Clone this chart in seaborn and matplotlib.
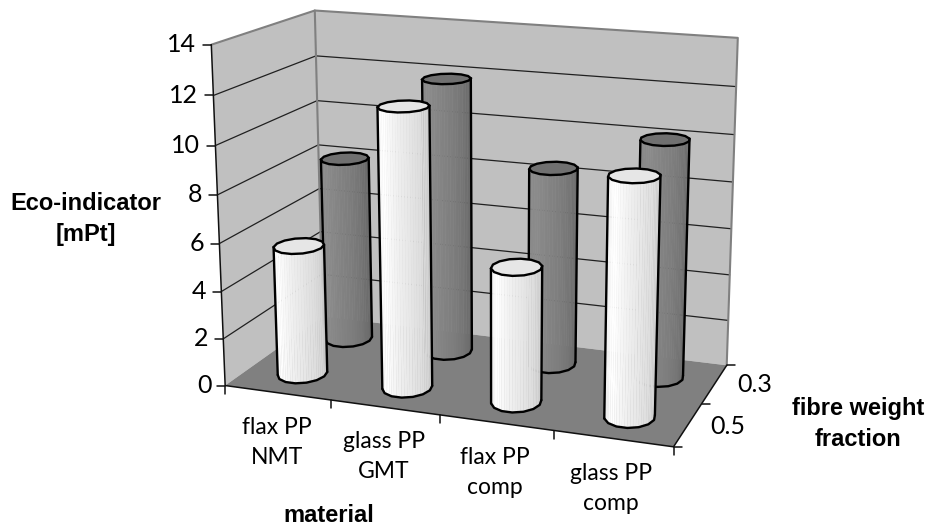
import numpy as np
import seaborn as sns
import matplotlib
matplotlib.use('Agg')
import matplotlib.pyplot as plt
from matplotlib.patches import Polygon

# values
materials = ['flax PP\nNMT', 'glass PP\nGMT', 'flax PP\ncomp', 'glass PP\ncomp']
fractions = ['0.5', '0.3']
eco_front = [5.5, 11.65, 5.6, 9.7]   # 0.5
eco_back = [8.1, 11.9, 8.5, 10.1]    # 0.3
y_ticks = [0, 2, 4, 6, 8, 10, 12, 14]

sns.set_theme(style='white')
plt.rcParams['font.family'] = ['Lato', 'DejaVu Sans']

n_cat = len(materials)
n_depth = len(fractions)
y_max = y_ticks[-1]

# camera of the 3d box: (category, depth, value) -> picture pixel
calib = [((0, 0, 0), (225, 386)), ((n_cat, 0, 0), (673, 447)), ((n_cat, n_depth, 0), (727, 365)),
         ((0, n_depth, 0), (323, 316)), ((0, 0, y_max), (212, 44)), ((0, n_depth, y_max), (314, 11)),
         ((n_cat, n_depth, y_max), (738, 38))]
A = []
for (a, b, c), (u, v) in calib:
    A.append([a, b, c, 1, 0, 0, 0, 0, -u*a, -u*b, -u*c, -u])
    A.append([0, 0, 0, 0, a, b, c, 1, -v*a, -v*b, -v*c, -v])
cam = np.linalg.svd(np.array(A, dtype=float))[2][-1].reshape(3, 4)


def proj(x, d, z):
    p = cam @ np.array([x, d, z, 1.0])
    return p[0] / p[2], p[1] / p[2]


fig = plt.figure(figsize=(9.29, 5.26), dpi=100)
ax = fig.add_axes([0, 0, 1, 1])
ax.set_xlim(0, 929)
ax.set_ylim(526, 0)
ax.axis('off')

wall = '#c0c0c0'
edge = '#808080'

# walls and floor
ax.add_patch(Polygon([proj(0, 0, 0), proj(0, 0, y_max), proj(0, n_depth, y_max), proj(0, n_depth, 0)], fc=wall, ec='none', zorder=1))
ax.add_patch(Polygon([proj(0, n_depth, 0), proj(0, n_depth, y_max), proj(n_cat, n_depth, y_max), proj(n_cat, n_depth, 0)], fc=wall, ec='none', zorder=1))
ax.add_patch(Polygon([proj(0, 0, 0), proj(n_cat, 0, 0), proj(n_cat, n_depth, 0), proj(0, n_depth, 0)], fc=edge, ec='none', zorder=2))

for t in y_ticks[1:-1]:
    pts = np.array([proj(0, 0, t), proj(0, n_depth, t), proj(n_cat, n_depth, t)])
    ax.plot(pts[:, 0], pts[:, 1], c='#202020', lw=0.9, zorder=2)

# wall rims
pts = np.array([proj(0, 0, y_max), proj(0, n_depth, y_max), proj(n_cat, n_depth, y_max), proj(n_cat, n_depth, 0)])
ax.plot(pts[:, 0], pts[:, 1], c=edge, lw=1.5, zorder=2)
pts = np.array([proj(0, n_depth, y_max), proj(0, n_depth, 0)])
ax.plot(pts[:, 0], pts[:, 1], c=edge, lw=1.5, zorder=2)

# axis lines
pts = np.array([proj(0, 0, y_max), proj(0, 0, 0), proj(n_cat, 0, 0), proj(n_cat, n_depth, 0)])
ax.plot(pts[:, 0], pts[:, 1], c='#101010', lw=1.1, zorder=3)

for t in y_ticks:
    u, v = proj(0, 0, t)
    ax.plot([u - 8, u], [v, v], c='#101010', lw=1.1, zorder=3)
    ax.text(u - 15 if t else u - 13, v, str(t), ha='right', va='center', fontsize=18, color='black')

for i in range(n_cat + 1):
    u, v = proj(i, 0, 0)
    ax.plot([u, u], [v, v + 8], c='#101010', lw=1.1, zorder=3)
for i in range(n_depth + 1):
    u, v = proj(n_cat, i, 0)
    ax.plot([u, u + 8], [v, v], c='#101010', lw=1.1, zorder=3)

# cylinders, 14 sided like the excel ones
radius_x = 0.21
radius_d = 0.25
n_side = 14
angles = np.linspace(0, 2*np.pi, n_side + 1)


def draw_bar(x, d, h, palette, top_color, zo):
    rim = [(x + radius_x*np.cos(a), d + radius_d*np.sin(a)) for a in angles]
    top = np.array([proj(p[0], p[1], h) for p in rim])
    bot = np.array([proj(p[0], p[1], 0) for p in rim])
    left = np.argmin(top[:-1, 0])
    right = np.argmax(top[:-1, 0])
    # front half runs from the left extreme round to the right extreme
    idx = [(left + k) % n_side for k in range((right - left) % n_side + 1)]
    n_strip = 4
    total = (len(idx) - 1) * n_strip
    for k, i in enumerate(idx[:-1]):
        j = idx[k + 1]
        for s in range(n_strip):
            f0, f1 = s / n_strip, (s + 1) / n_strip
            c = palette[int((k*n_strip + s) / (total - 1) * (len(palette) - 1))]
            ax.add_patch(Polygon([top[i] + f0*(top[j] - top[i]), top[i] + f1*(top[j] - top[i]),
                                  bot[i] + f1*(bot[j] - bot[i]), bot[i] + f0*(bot[j] - bot[i])],
                                 fc=c, ec=c, lw=0.3, zorder=zo))
    ax.add_patch(Polygon(top[:-1], fc=top_color, ec='black', lw=1.7, zorder=zo + 0.2))
    ax.plot(bot[idx, 0], bot[idx, 1], c='black', lw=1.7, zorder=zo + 0.1)
    ax.plot([top[left, 0], bot[left, 0]], [top[left, 1], bot[left, 1]], c='black', lw=1.7, zorder=zo + 0.1)
    ax.plot([top[right, 0], bot[right, 0]], [top[right, 1], bot[right, 1]], c='black', lw=1.7, zorder=zo + 0.1)


pal_front = sns.blend_palette(['#f4f4f4', '#ffffff', '#f0f0f0', '#e4e4e4', '#d8d8d8', '#c8c8c8'], 28)
pal_back = sns.blend_palette(['#858585', '#8c8c8c', '#848484', '#7c7c7c', '#707070', '#666666'], 28)

for i in range(n_cat):
    draw_bar(i + 0.5, 1.5, eco_back[i], pal_back, '#707070', 5)
for i in range(n_cat):
    draw_bar(i + 0.5, 0.5, eco_front[i], pal_front, '#e6e6e6', 7)

# labels
cat_offsets = [(277, 427), (384, 442), (495, 457), (611, 474)]
for name, (u, v) in zip(materials, cat_offsets):
    a, b = name.split('\n')
    ax.text(u, v, a, ha='center', va='center', fontsize=16.5, color='black')
    ax.text(u, v + 30, b, ha='center', va='center', fontsize=16.5, color='black')

ax.text(728, 427, fractions[0], ha='center', va='center', fontsize=18, color='black')
ax.text(755, 385, fractions[1], ha='center', va='center', fontsize=18, color='black')

bold = dict(ha='center', va='center', fontsize=17, fontweight='bold', color='black', family='Liberation Sans')
ax.text(86, 204, 'Eco-indicator', **bold)
ax.text(86, 235, '[mPt]', **bold)
ax.text(329, 515, 'material', **bold)
ax.text(858, 408, 'fibre weight', **bold)
ax.text(858, 440, 'fraction', **bold)

plt.savefig('out.png', dpi=100)
